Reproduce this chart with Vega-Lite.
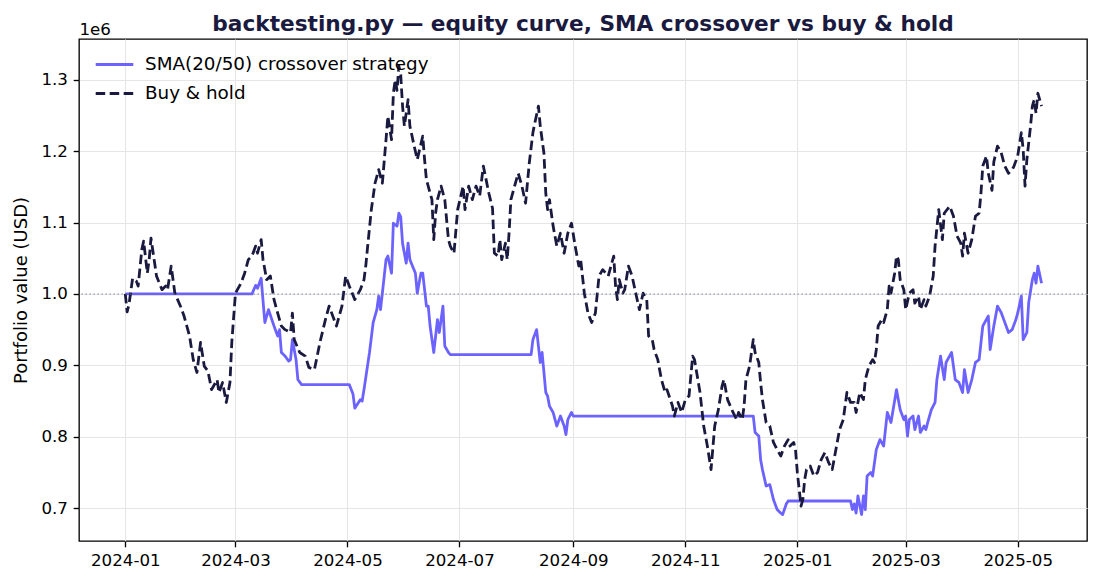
{
  "$schema": "https://vega.github.io/schema/vega-lite/v6.json",
  "width": 1008,
  "height": 502,
  "autosize": {"type": "none"},
  "padding": {"left": 79, "top": 39, "right": 12, "bottom": 42},
  "background": "white",
  "title": {
    "text": "backtesting.py — equity curve, SMA crossover vs buy & hold",
    "font": "DejaVu Sans",
    "fontSize": 21.67,
    "fontWeight": "bold",
    "color": "#1a1a40",
    "anchor": "middle",
    "frame": "group",
    "baseline": "alphabetic",
    "offset": -31.5
  },
  "config": {
    "view": {"stroke": "#000000", "strokeWidth": 1.33},
    "axis": {
      "labelFont": "DejaVu Sans",
      "labelFontSize": 16.67,
      "labelColor": "#000000",
      "titleFont": "DejaVu Sans",
      "titleFontSize": 18,
      "titleFontWeight": "normal",
      "titleColor": "#000000",
      "tickColor": "#000000",
      "tickSize": 5.8,
      "tickWidth": 1.33,
      "labelPadding": 5.8,
      "domain": false,
      "gridColor": "#e6e6e6",
      "gridWidth": 1.1
    },
    "legend": {
      "orient": "none",
      "legendX": 15,
      "legendY": 5,
      "labelFont": "DejaVu Sans",
      "labelFontSize": 18.33,
      "labelColor": "#000000",
      "labelLimit": 500,
      "symbolType": "stroke",
      "symbolSize": 1414,
      "symbolStrokeWidth": 2.8,
      "labelOffset": 10,
      "rowPadding": -12,
      "padding": 0,
      "title": null
    }
  },
  "datasets": {
    "equity": [
      {"series": "SMA(20/50) crossover strategy", "date": "2024-01-01", "equity": 1000000},
      {"series": "SMA(20/50) crossover strategy", "date": "2024-03-10", "equity": 1000000},
      {"series": "SMA(20/50) crossover strategy", "date": "2024-03-12", "equity": 1012000},
      {"series": "SMA(20/50) crossover strategy", "date": "2024-03-13", "equity": 1008000},
      {"series": "SMA(20/50) crossover strategy", "date": "2024-03-15", "equity": 1022000},
      {"series": "SMA(20/50) crossover strategy", "date": "2024-03-17", "equity": 960000},
      {"series": "SMA(20/50) crossover strategy", "date": "2024-03-19", "equity": 978000},
      {"series": "SMA(20/50) crossover strategy", "date": "2024-03-22", "equity": 955000},
      {"series": "SMA(20/50) crossover strategy", "date": "2024-03-24", "equity": 941000},
      {"series": "SMA(20/50) crossover strategy", "date": "2024-03-25", "equity": 950000},
      {"series": "SMA(20/50) crossover strategy", "date": "2024-03-26", "equity": 918000},
      {"series": "SMA(20/50) crossover strategy", "date": "2024-03-28", "equity": 913000},
      {"series": "SMA(20/50) crossover strategy", "date": "2024-03-30", "equity": 906000},
      {"series": "SMA(20/50) crossover strategy", "date": "2024-03-31", "equity": 908000},
      {"series": "SMA(20/50) crossover strategy", "date": "2024-04-01", "equity": 936000},
      {"series": "SMA(20/50) crossover strategy", "date": "2024-04-03", "equity": 908000},
      {"series": "SMA(20/50) crossover strategy", "date": "2024-04-04", "equity": 880000},
      {"series": "SMA(20/50) crossover strategy", "date": "2024-04-06", "equity": 873000},
      {"series": "SMA(20/50) crossover strategy", "date": "2024-05-02", "equity": 873000},
      {"series": "SMA(20/50) crossover strategy", "date": "2024-05-04", "equity": 860000},
      {"series": "SMA(20/50) crossover strategy", "date": "2024-05-05", "equity": 840000},
      {"series": "SMA(20/50) crossover strategy", "date": "2024-05-07", "equity": 848000},
      {"series": "SMA(20/50) crossover strategy", "date": "2024-05-08", "equity": 852000},
      {"series": "SMA(20/50) crossover strategy", "date": "2024-05-09", "equity": 850000},
      {"series": "SMA(20/50) crossover strategy", "date": "2024-05-10", "equity": 866000},
      {"series": "SMA(20/50) crossover strategy", "date": "2024-05-13", "equity": 918000},
      {"series": "SMA(20/50) crossover strategy", "date": "2024-05-15", "equity": 960000},
      {"series": "SMA(20/50) crossover strategy", "date": "2024-05-17", "equity": 978000},
      {"series": "SMA(20/50) crossover strategy", "date": "2024-05-18", "equity": 997000},
      {"series": "SMA(20/50) crossover strategy", "date": "2024-05-19", "equity": 978000},
      {"series": "SMA(20/50) crossover strategy", "date": "2024-05-20", "equity": 1001000},
      {"series": "SMA(20/50) crossover strategy", "date": "2024-05-22", "equity": 1048000},
      {"series": "SMA(20/50) crossover strategy", "date": "2024-05-23", "equity": 1053000},
      {"series": "SMA(20/50) crossover strategy", "date": "2024-05-25", "equity": 1029000},
      {"series": "SMA(20/50) crossover strategy", "date": "2024-05-26", "equity": 1099000},
      {"series": "SMA(20/50) crossover strategy", "date": "2024-05-28", "equity": 1095000},
      {"series": "SMA(20/50) crossover strategy", "date": "2024-05-29", "equity": 1113000},
      {"series": "SMA(20/50) crossover strategy", "date": "2024-05-30", "equity": 1108000},
      {"series": "SMA(20/50) crossover strategy", "date": "2024-05-31", "equity": 1071000},
      {"series": "SMA(20/50) crossover strategy", "date": "2024-06-02", "equity": 1043000},
      {"series": "SMA(20/50) crossover strategy", "date": "2024-06-03", "equity": 1071000},
      {"series": "SMA(20/50) crossover strategy", "date": "2024-06-04", "equity": 1048000},
      {"series": "SMA(20/50) crossover strategy", "date": "2024-06-07", "equity": 1029000},
      {"series": "SMA(20/50) crossover strategy", "date": "2024-06-08", "equity": 1001000},
      {"series": "SMA(20/50) crossover strategy", "date": "2024-06-10", "equity": 1029000},
      {"series": "SMA(20/50) crossover strategy", "date": "2024-06-11", "equity": 1029000},
      {"series": "SMA(20/50) crossover strategy", "date": "2024-06-13", "equity": 983000},
      {"series": "SMA(20/50) crossover strategy", "date": "2024-06-14", "equity": 983000},
      {"series": "SMA(20/50) crossover strategy", "date": "2024-06-15", "equity": 955000},
      {"series": "SMA(20/50) crossover strategy", "date": "2024-06-17", "equity": 918000},
      {"series": "SMA(20/50) crossover strategy", "date": "2024-06-19", "equity": 964000},
      {"series": "SMA(20/50) crossover strategy", "date": "2024-06-20", "equity": 946000},
      {"series": "SMA(20/50) crossover strategy", "date": "2024-06-22", "equity": 983000},
      {"series": "SMA(20/50) crossover strategy", "date": "2024-06-23", "equity": 927000},
      {"series": "SMA(20/50) crossover strategy", "date": "2024-06-25", "equity": 918000},
      {"series": "SMA(20/50) crossover strategy", "date": "2024-06-26", "equity": 915000},
      {"series": "SMA(20/50) crossover strategy", "date": "2024-08-09", "equity": 915000},
      {"series": "SMA(20/50) crossover strategy", "date": "2024-08-10", "equity": 936000},
      {"series": "SMA(20/50) crossover strategy", "date": "2024-08-12", "equity": 950000},
      {"series": "SMA(20/50) crossover strategy", "date": "2024-08-14", "equity": 904000},
      {"series": "SMA(20/50) crossover strategy", "date": "2024-08-15", "equity": 918000},
      {"series": "SMA(20/50) crossover strategy", "date": "2024-08-17", "equity": 862000},
      {"series": "SMA(20/50) crossover strategy", "date": "2024-08-18", "equity": 857000},
      {"series": "SMA(20/50) crossover strategy", "date": "2024-08-19", "equity": 843000},
      {"series": "SMA(20/50) crossover strategy", "date": "2024-08-21", "equity": 834000},
      {"series": "SMA(20/50) crossover strategy", "date": "2024-08-23", "equity": 815000},
      {"series": "SMA(20/50) crossover strategy", "date": "2024-08-25", "equity": 829000},
      {"series": "SMA(20/50) crossover strategy", "date": "2024-08-27", "equity": 815000},
      {"series": "SMA(20/50) crossover strategy", "date": "2024-08-28", "equity": 803000},
      {"series": "SMA(20/50) crossover strategy", "date": "2024-08-29", "equity": 824000},
      {"series": "SMA(20/50) crossover strategy", "date": "2024-08-31", "equity": 834000},
      {"series": "SMA(20/50) crossover strategy", "date": "2024-09-01", "equity": 829000},
      {"series": "SMA(20/50) crossover strategy", "date": "2024-12-08", "equity": 829000},
      {"series": "SMA(20/50) crossover strategy", "date": "2024-12-09", "equity": 806000},
      {"series": "SMA(20/50) crossover strategy", "date": "2024-12-11", "equity": 801000},
      {"series": "SMA(20/50) crossover strategy", "date": "2024-12-12", "equity": 768000},
      {"series": "SMA(20/50) crossover strategy", "date": "2024-12-13", "equity": 754000},
      {"series": "SMA(20/50) crossover strategy", "date": "2024-12-15", "equity": 731000},
      {"series": "SMA(20/50) crossover strategy", "date": "2024-12-17", "equity": 733000},
      {"series": "SMA(20/50) crossover strategy", "date": "2024-12-19", "equity": 712000},
      {"series": "SMA(20/50) crossover strategy", "date": "2024-12-21", "equity": 698000},
      {"series": "SMA(20/50) crossover strategy", "date": "2024-12-23", "equity": 693000},
      {"series": "SMA(20/50) crossover strategy", "date": "2024-12-24", "equity": 691000},
      {"series": "SMA(20/50) crossover strategy", "date": "2024-12-26", "equity": 706000},
      {"series": "SMA(20/50) crossover strategy", "date": "2024-12-27", "equity": 710000},
      {"series": "SMA(20/50) crossover strategy", "date": "2025-01-30", "equity": 710000},
      {"series": "SMA(20/50) crossover strategy", "date": "2025-01-31", "equity": 698000},
      {"series": "SMA(20/50) crossover strategy", "date": "2025-02-01", "equity": 706000},
      {"series": "SMA(20/50) crossover strategy", "date": "2025-02-02", "equity": 693000},
      {"series": "SMA(20/50) crossover strategy", "date": "2025-02-03", "equity": 717000},
      {"series": "SMA(20/50) crossover strategy", "date": "2025-02-05", "equity": 691000},
      {"series": "SMA(20/50) crossover strategy", "date": "2025-02-06", "equity": 717000},
      {"series": "SMA(20/50) crossover strategy", "date": "2025-02-07", "equity": 698000},
      {"series": "SMA(20/50) crossover strategy", "date": "2025-02-08", "equity": 745000},
      {"series": "SMA(20/50) crossover strategy", "date": "2025-02-10", "equity": 750000},
      {"series": "SMA(20/50) crossover strategy", "date": "2025-02-11", "equity": 745000},
      {"series": "SMA(20/50) crossover strategy", "date": "2025-02-13", "equity": 782000},
      {"series": "SMA(20/50) crossover strategy", "date": "2025-02-15", "equity": 796000},
      {"series": "SMA(20/50) crossover strategy", "date": "2025-02-17", "equity": 787000},
      {"series": "SMA(20/50) crossover strategy", "date": "2025-02-19", "equity": 834000},
      {"series": "SMA(20/50) crossover strategy", "date": "2025-02-21", "equity": 820000},
      {"series": "SMA(20/50) crossover strategy", "date": "2025-02-24", "equity": 866000},
      {"series": "SMA(20/50) crossover strategy", "date": "2025-02-26", "equity": 838000},
      {"series": "SMA(20/50) crossover strategy", "date": "2025-02-28", "equity": 824000},
      {"series": "SMA(20/50) crossover strategy", "date": "2025-03-01", "equity": 829000},
      {"series": "SMA(20/50) crossover strategy", "date": "2025-03-02", "equity": 801000},
      {"series": "SMA(20/50) crossover strategy", "date": "2025-03-03", "equity": 824000},
      {"series": "SMA(20/50) crossover strategy", "date": "2025-03-05", "equity": 829000},
      {"series": "SMA(20/50) crossover strategy", "date": "2025-03-06", "equity": 810000},
      {"series": "SMA(20/50) crossover strategy", "date": "2025-03-08", "equity": 829000},
      {"series": "SMA(20/50) crossover strategy", "date": "2025-03-09", "equity": 806000},
      {"series": "SMA(20/50) crossover strategy", "date": "2025-03-11", "equity": 815000},
      {"series": "SMA(20/50) crossover strategy", "date": "2025-03-12", "equity": 810000},
      {"series": "SMA(20/50) crossover strategy", "date": "2025-03-13", "equity": 820000},
      {"series": "SMA(20/50) crossover strategy", "date": "2025-03-15", "equity": 838000},
      {"series": "SMA(20/50) crossover strategy", "date": "2025-03-17", "equity": 848000},
      {"series": "SMA(20/50) crossover strategy", "date": "2025-03-18", "equity": 880000},
      {"series": "SMA(20/50) crossover strategy", "date": "2025-03-20", "equity": 913000},
      {"series": "SMA(20/50) crossover strategy", "date": "2025-03-22", "equity": 880000},
      {"series": "SMA(20/50) crossover strategy", "date": "2025-03-23", "equity": 904000},
      {"series": "SMA(20/50) crossover strategy", "date": "2025-03-26", "equity": 918000},
      {"series": "SMA(20/50) crossover strategy", "date": "2025-03-28", "equity": 880000},
      {"series": "SMA(20/50) crossover strategy", "date": "2025-03-30", "equity": 876000},
      {"series": "SMA(20/50) crossover strategy", "date": "2025-04-01", "equity": 862000},
      {"series": "SMA(20/50) crossover strategy", "date": "2025-04-02", "equity": 894000},
      {"series": "SMA(20/50) crossover strategy", "date": "2025-04-04", "equity": 862000},
      {"series": "SMA(20/50) crossover strategy", "date": "2025-04-06", "equity": 880000},
      {"series": "SMA(20/50) crossover strategy", "date": "2025-04-08", "equity": 904000},
      {"series": "SMA(20/50) crossover strategy", "date": "2025-04-10", "equity": 908000},
      {"series": "SMA(20/50) crossover strategy", "date": "2025-04-12", "equity": 955000},
      {"series": "SMA(20/50) crossover strategy", "date": "2025-04-15", "equity": 969000},
      {"series": "SMA(20/50) crossover strategy", "date": "2025-04-16", "equity": 922000},
      {"series": "SMA(20/50) crossover strategy", "date": "2025-04-18", "equity": 955000},
      {"series": "SMA(20/50) crossover strategy", "date": "2025-04-20", "equity": 983000},
      {"series": "SMA(20/50) crossover strategy", "date": "2025-04-22", "equity": 974000},
      {"series": "SMA(20/50) crossover strategy", "date": "2025-04-24", "equity": 960000},
      {"series": "SMA(20/50) crossover strategy", "date": "2025-04-26", "equity": 946000},
      {"series": "SMA(20/50) crossover strategy", "date": "2025-04-28", "equity": 950000},
      {"series": "SMA(20/50) crossover strategy", "date": "2025-04-30", "equity": 964000},
      {"series": "SMA(20/50) crossover strategy", "date": "2025-05-01", "equity": 973000},
      {"series": "SMA(20/50) crossover strategy", "date": "2025-05-03", "equity": 997000},
      {"series": "SMA(20/50) crossover strategy", "date": "2025-05-04", "equity": 936000},
      {"series": "SMA(20/50) crossover strategy", "date": "2025-05-06", "equity": 946000},
      {"series": "SMA(20/50) crossover strategy", "date": "2025-05-07", "equity": 988000},
      {"series": "SMA(20/50) crossover strategy", "date": "2025-05-09", "equity": 1020000},
      {"series": "SMA(20/50) crossover strategy", "date": "2025-05-10", "equity": 1029000},
      {"series": "SMA(20/50) crossover strategy", "date": "2025-05-11", "equity": 1015000},
      {"series": "SMA(20/50) crossover strategy", "date": "2025-05-12", "equity": 1039000},
      {"series": "SMA(20/50) crossover strategy", "date": "2025-05-14", "equity": 1015000},
      {"series": "Buy & hold", "date": "2024-01-01", "equity": 1000000},
      {"series": "Buy & hold", "date": "2024-01-02", "equity": 975000},
      {"series": "Buy & hold", "date": "2024-01-03", "equity": 985000},
      {"series": "Buy & hold", "date": "2024-01-05", "equity": 1022000},
      {"series": "Buy & hold", "date": "2024-01-07", "equity": 1018000},
      {"series": "Buy & hold", "date": "2024-01-08", "equity": 1011000},
      {"series": "Buy & hold", "date": "2024-01-10", "equity": 1062000},
      {"series": "Buy & hold", "date": "2024-01-11", "equity": 1074000},
      {"series": "Buy & hold", "date": "2024-01-13", "equity": 1029000},
      {"series": "Buy & hold", "date": "2024-01-14", "equity": 1048000},
      {"series": "Buy & hold", "date": "2024-01-15", "equity": 1078000},
      {"series": "Buy & hold", "date": "2024-01-17", "equity": 1043000},
      {"series": "Buy & hold", "date": "2024-01-18", "equity": 1025000},
      {"series": "Buy & hold", "date": "2024-01-21", "equity": 1006000},
      {"series": "Buy & hold", "date": "2024-01-23", "equity": 1011000},
      {"series": "Buy & hold", "date": "2024-01-24", "equity": 1006000},
      {"series": "Buy & hold", "date": "2024-01-26", "equity": 1039000},
      {"series": "Buy & hold", "date": "2024-01-28", "equity": 1001000},
      {"series": "Buy & hold", "date": "2024-01-31", "equity": 983000},
      {"series": "Buy & hold", "date": "2024-02-02", "equity": 969000},
      {"series": "Buy & hold", "date": "2024-02-05", "equity": 941000},
      {"series": "Buy & hold", "date": "2024-02-07", "equity": 908000},
      {"series": "Buy & hold", "date": "2024-02-09", "equity": 890000},
      {"series": "Buy & hold", "date": "2024-02-11", "equity": 932000},
      {"series": "Buy & hold", "date": "2024-02-13", "equity": 899000},
      {"series": "Buy & hold", "date": "2024-02-15", "equity": 892000},
      {"series": "Buy & hold", "date": "2024-02-17", "equity": 866000},
      {"series": "Buy & hold", "date": "2024-02-20", "equity": 880000},
      {"series": "Buy & hold", "date": "2024-02-21", "equity": 862000},
      {"series": "Buy & hold", "date": "2024-02-23", "equity": 876000},
      {"series": "Buy & hold", "date": "2024-02-25", "equity": 848000},
      {"series": "Buy & hold", "date": "2024-02-27", "equity": 876000},
      {"series": "Buy & hold", "date": "2024-02-28", "equity": 932000},
      {"series": "Buy & hold", "date": "2024-03-01", "equity": 1001000},
      {"series": "Buy & hold", "date": "2024-03-04", "equity": 1015000},
      {"series": "Buy & hold", "date": "2024-03-06", "equity": 1029000},
      {"series": "Buy & hold", "date": "2024-03-08", "equity": 1048000},
      {"series": "Buy & hold", "date": "2024-03-10", "equity": 1053000},
      {"series": "Buy & hold", "date": "2024-03-12", "equity": 1067000},
      {"series": "Buy & hold", "date": "2024-03-13", "equity": 1057000},
      {"series": "Buy & hold", "date": "2024-03-15", "equity": 1076000},
      {"series": "Buy & hold", "date": "2024-03-16", "equity": 1048000},
      {"series": "Buy & hold", "date": "2024-03-18", "equity": 1020000},
      {"series": "Buy & hold", "date": "2024-03-20", "equity": 1025000},
      {"series": "Buy & hold", "date": "2024-03-22", "equity": 992000},
      {"series": "Buy & hold", "date": "2024-03-24", "equity": 973000},
      {"series": "Buy & hold", "date": "2024-03-26", "equity": 955000},
      {"series": "Buy & hold", "date": "2024-03-28", "equity": 950000},
      {"series": "Buy & hold", "date": "2024-03-31", "equity": 946000},
      {"series": "Buy & hold", "date": "2024-04-01", "equity": 973000},
      {"series": "Buy & hold", "date": "2024-04-02", "equity": 936000},
      {"series": "Buy & hold", "date": "2024-04-05", "equity": 918000},
      {"series": "Buy & hold", "date": "2024-04-08", "equity": 913000},
      {"series": "Buy & hold", "date": "2024-04-10", "equity": 897000},
      {"series": "Buy & hold", "date": "2024-04-13", "equity": 894000},
      {"series": "Buy & hold", "date": "2024-04-16", "equity": 932000},
      {"series": "Buy & hold", "date": "2024-04-19", "equity": 964000},
      {"series": "Buy & hold", "date": "2024-04-21", "equity": 983000},
      {"series": "Buy & hold", "date": "2024-04-25", "equity": 955000},
      {"series": "Buy & hold", "date": "2024-04-28", "equity": 983000},
      {"series": "Buy & hold", "date": "2024-04-30", "equity": 1025000},
      {"series": "Buy & hold", "date": "2024-05-02", "equity": 1011000},
      {"series": "Buy & hold", "date": "2024-05-05", "equity": 992000},
      {"series": "Buy & hold", "date": "2024-05-08", "equity": 1006000},
      {"series": "Buy & hold", "date": "2024-05-10", "equity": 1020000},
      {"series": "Buy & hold", "date": "2024-05-11", "equity": 1040000},
      {"series": "Buy & hold", "date": "2024-05-12", "equity": 1067000},
      {"series": "Buy & hold", "date": "2024-05-14", "equity": 1118000},
      {"series": "Buy & hold", "date": "2024-05-16", "equity": 1155000},
      {"series": "Buy & hold", "date": "2024-05-18", "equity": 1174000},
      {"series": "Buy & hold", "date": "2024-05-20", "equity": 1155000},
      {"series": "Buy & hold", "date": "2024-05-22", "equity": 1216000},
      {"series": "Buy & hold", "date": "2024-05-23", "equity": 1249000},
      {"series": "Buy & hold", "date": "2024-05-25", "equity": 1216000},
      {"series": "Buy & hold", "date": "2024-05-26", "equity": 1281000},
      {"series": "Buy & hold", "date": "2024-05-27", "equity": 1300000},
      {"series": "Buy & hold", "date": "2024-05-28", "equity": 1285000},
      {"series": "Buy & hold", "date": "2024-05-29", "equity": 1319000},
      {"series": "Buy & hold", "date": "2024-05-30", "equity": 1307000},
      {"series": "Buy & hold", "date": "2024-05-31", "equity": 1263000},
      {"series": "Buy & hold", "date": "2024-06-01", "equity": 1235000},
      {"series": "Buy & hold", "date": "2024-06-03", "equity": 1272000},
      {"series": "Buy & hold", "date": "2024-06-04", "equity": 1235000},
      {"series": "Buy & hold", "date": "2024-06-06", "equity": 1211000},
      {"series": "Buy & hold", "date": "2024-06-08", "equity": 1188000},
      {"series": "Buy & hold", "date": "2024-06-11", "equity": 1221000},
      {"series": "Buy & hold", "date": "2024-06-12", "equity": 1188000},
      {"series": "Buy & hold", "date": "2024-06-13", "equity": 1160000},
      {"series": "Buy & hold", "date": "2024-06-16", "equity": 1132000},
      {"series": "Buy & hold", "date": "2024-06-17", "equity": 1076000},
      {"series": "Buy & hold", "date": "2024-06-18", "equity": 1113000},
      {"series": "Buy & hold", "date": "2024-06-19", "equity": 1132000},
      {"series": "Buy & hold", "date": "2024-06-21", "equity": 1151000},
      {"series": "Buy & hold", "date": "2024-06-23", "equity": 1132000},
      {"series": "Buy & hold", "date": "2024-06-25", "equity": 1076000},
      {"series": "Buy & hold", "date": "2024-06-26", "equity": 1067000},
      {"series": "Buy & hold", "date": "2024-06-28", "equity": 1057000},
      {"series": "Buy & hold", "date": "2024-06-30", "equity": 1118000},
      {"series": "Buy & hold", "date": "2024-07-03", "equity": 1151000},
      {"series": "Buy & hold", "date": "2024-07-04", "equity": 1118000},
      {"series": "Buy & hold", "date": "2024-07-06", "equity": 1151000},
      {"series": "Buy & hold", "date": "2024-07-08", "equity": 1132000},
      {"series": "Buy & hold", "date": "2024-07-10", "equity": 1151000},
      {"series": "Buy & hold", "date": "2024-07-12", "equity": 1137000},
      {"series": "Buy & hold", "date": "2024-07-14", "equity": 1179000},
      {"series": "Buy & hold", "date": "2024-07-17", "equity": 1141000},
      {"series": "Buy & hold", "date": "2024-07-19", "equity": 1120000},
      {"series": "Buy & hold", "date": "2024-07-20", "equity": 1057000},
      {"series": "Buy & hold", "date": "2024-07-22", "equity": 1053000},
      {"series": "Buy & hold", "date": "2024-07-23", "equity": 1076000},
      {"series": "Buy & hold", "date": "2024-07-24", "equity": 1048000},
      {"series": "Buy & hold", "date": "2024-07-26", "equity": 1071000},
      {"series": "Buy & hold", "date": "2024-07-27", "equity": 1048000},
      {"series": "Buy & hold", "date": "2024-07-28", "equity": 1085000},
      {"series": "Buy & hold", "date": "2024-07-29", "equity": 1132000},
      {"series": "Buy & hold", "date": "2024-07-31", "equity": 1151000},
      {"series": "Buy & hold", "date": "2024-08-02", "equity": 1169000},
      {"series": "Buy & hold", "date": "2024-08-04", "equity": 1151000},
      {"series": "Buy & hold", "date": "2024-08-06", "equity": 1127000},
      {"series": "Buy & hold", "date": "2024-08-08", "equity": 1183000},
      {"series": "Buy & hold", "date": "2024-08-10", "equity": 1226000},
      {"series": "Buy & hold", "date": "2024-08-11", "equity": 1239000},
      {"series": "Buy & hold", "date": "2024-08-13", "equity": 1263000},
      {"series": "Buy & hold", "date": "2024-08-14", "equity": 1235000},
      {"series": "Buy & hold", "date": "2024-08-15", "equity": 1216000},
      {"series": "Buy & hold", "date": "2024-08-16", "equity": 1197000},
      {"series": "Buy & hold", "date": "2024-08-17", "equity": 1141000},
      {"series": "Buy & hold", "date": "2024-08-18", "equity": 1118000},
      {"series": "Buy & hold", "date": "2024-08-19", "equity": 1132000},
      {"series": "Buy & hold", "date": "2024-08-21", "equity": 1095000},
      {"series": "Buy & hold", "date": "2024-08-23", "equity": 1067000},
      {"series": "Buy & hold", "date": "2024-08-25", "equity": 1085000},
      {"series": "Buy & hold", "date": "2024-08-27", "equity": 1057000},
      {"series": "Buy & hold", "date": "2024-08-29", "equity": 1085000},
      {"series": "Buy & hold", "date": "2024-08-31", "equity": 1099000},
      {"series": "Buy & hold", "date": "2024-09-02", "equity": 1067000},
      {"series": "Buy & hold", "date": "2024-09-04", "equity": 1039000},
      {"series": "Buy & hold", "date": "2024-09-05", "equity": 1048000},
      {"series": "Buy & hold", "date": "2024-09-07", "equity": 1001000},
      {"series": "Buy & hold", "date": "2024-09-09", "equity": 973000},
      {"series": "Buy & hold", "date": "2024-09-11", "equity": 960000},
      {"series": "Buy & hold", "date": "2024-09-13", "equity": 973000},
      {"series": "Buy & hold", "date": "2024-09-15", "equity": 1025000},
      {"series": "Buy & hold", "date": "2024-09-17", "equity": 1034000},
      {"series": "Buy & hold", "date": "2024-09-20", "equity": 1025000},
      {"series": "Buy & hold", "date": "2024-09-23", "equity": 1053000},
      {"series": "Buy & hold", "date": "2024-09-24", "equity": 1011000},
      {"series": "Buy & hold", "date": "2024-09-25", "equity": 992000},
      {"series": "Buy & hold", "date": "2024-09-26", "equity": 1020000},
      {"series": "Buy & hold", "date": "2024-09-28", "equity": 1001000},
      {"series": "Buy & hold", "date": "2024-09-29", "equity": 1006000},
      {"series": "Buy & hold", "date": "2024-10-01", "equity": 1039000},
      {"series": "Buy & hold", "date": "2024-10-03", "equity": 1025000},
      {"series": "Buy & hold", "date": "2024-10-05", "equity": 1001000},
      {"series": "Buy & hold", "date": "2024-10-07", "equity": 978000},
      {"series": "Buy & hold", "date": "2024-10-09", "equity": 1001000},
      {"series": "Buy & hold", "date": "2024-10-11", "equity": 992000},
      {"series": "Buy & hold", "date": "2024-10-12", "equity": 941000},
      {"series": "Buy & hold", "date": "2024-10-14", "equity": 936000},
      {"series": "Buy & hold", "date": "2024-10-15", "equity": 922000},
      {"series": "Buy & hold", "date": "2024-10-17", "equity": 908000},
      {"series": "Buy & hold", "date": "2024-10-19", "equity": 880000},
      {"series": "Buy & hold", "date": "2024-10-21", "equity": 862000},
      {"series": "Buy & hold", "date": "2024-10-22", "equity": 866000},
      {"series": "Buy & hold", "date": "2024-10-25", "equity": 843000},
      {"series": "Buy & hold", "date": "2024-10-26", "equity": 829000},
      {"series": "Buy & hold", "date": "2024-10-28", "equity": 848000},
      {"series": "Buy & hold", "date": "2024-10-30", "equity": 834000},
      {"series": "Buy & hold", "date": "2024-11-01", "equity": 852000},
      {"series": "Buy & hold", "date": "2024-11-03", "equity": 857000},
      {"series": "Buy & hold", "date": "2024-11-05", "equity": 913000},
      {"series": "Buy & hold", "date": "2024-11-06", "equity": 908000},
      {"series": "Buy & hold", "date": "2024-11-09", "equity": 862000},
      {"series": "Buy & hold", "date": "2024-11-11", "equity": 815000},
      {"series": "Buy & hold", "date": "2024-11-13", "equity": 787000},
      {"series": "Buy & hold", "date": "2024-11-15", "equity": 754000},
      {"series": "Buy & hold", "date": "2024-11-17", "equity": 815000},
      {"series": "Buy & hold", "date": "2024-11-19", "equity": 838000},
      {"series": "Buy & hold", "date": "2024-11-21", "equity": 871000},
      {"series": "Buy & hold", "date": "2024-11-22", "equity": 880000},
      {"series": "Buy & hold", "date": "2024-11-24", "equity": 852000},
      {"series": "Buy & hold", "date": "2024-11-27", "equity": 834000},
      {"series": "Buy & hold", "date": "2024-11-29", "equity": 824000},
      {"series": "Buy & hold", "date": "2024-11-30", "equity": 834000},
      {"series": "Buy & hold", "date": "2024-12-02", "equity": 824000},
      {"series": "Buy & hold", "date": "2024-12-03", "equity": 843000},
      {"series": "Buy & hold", "date": "2024-12-04", "equity": 880000},
      {"series": "Buy & hold", "date": "2024-12-06", "equity": 899000},
      {"series": "Buy & hold", "date": "2024-12-08", "equity": 936000},
      {"series": "Buy & hold", "date": "2024-12-09", "equity": 918000},
      {"series": "Buy & hold", "date": "2024-12-11", "equity": 904000},
      {"series": "Buy & hold", "date": "2024-12-12", "equity": 876000},
      {"series": "Buy & hold", "date": "2024-12-13", "equity": 852000},
      {"series": "Buy & hold", "date": "2024-12-15", "equity": 820000},
      {"series": "Buy & hold", "date": "2024-12-17", "equity": 815000},
      {"series": "Buy & hold", "date": "2024-12-19", "equity": 792000},
      {"series": "Buy & hold", "date": "2024-12-21", "equity": 782000},
      {"series": "Buy & hold", "date": "2024-12-23", "equity": 773000},
      {"series": "Buy & hold", "date": "2024-12-25", "equity": 787000},
      {"series": "Buy & hold", "date": "2024-12-27", "equity": 796000},
      {"series": "Buy & hold", "date": "2024-12-28", "equity": 787000},
      {"series": "Buy & hold", "date": "2024-12-30", "equity": 792000},
      {"series": "Buy & hold", "date": "2024-12-31", "equity": 782000},
      {"series": "Buy & hold", "date": "2025-01-01", "equity": 750000},
      {"series": "Buy & hold", "date": "2025-01-03", "equity": 703000},
      {"series": "Buy & hold", "date": "2025-01-04", "equity": 712000},
      {"series": "Buy & hold", "date": "2025-01-05", "equity": 740000},
      {"series": "Buy & hold", "date": "2025-01-06", "equity": 754000},
      {"series": "Buy & hold", "date": "2025-01-08", "equity": 759000},
      {"series": "Buy & hold", "date": "2025-01-10", "equity": 745000},
      {"series": "Buy & hold", "date": "2025-01-12", "equity": 750000},
      {"series": "Buy & hold", "date": "2025-01-14", "equity": 768000},
      {"series": "Buy & hold", "date": "2025-01-16", "equity": 778000},
      {"series": "Buy & hold", "date": "2025-01-18", "equity": 764000},
      {"series": "Buy & hold", "date": "2025-01-20", "equity": 754000},
      {"series": "Buy & hold", "date": "2025-01-22", "equity": 782000},
      {"series": "Buy & hold", "date": "2025-01-24", "equity": 810000},
      {"series": "Buy & hold", "date": "2025-01-26", "equity": 824000},
      {"series": "Buy & hold", "date": "2025-01-28", "equity": 862000},
      {"series": "Buy & hold", "date": "2025-01-30", "equity": 848000},
      {"series": "Buy & hold", "date": "2025-02-01", "equity": 848000},
      {"series": "Buy & hold", "date": "2025-02-02", "equity": 834000},
      {"series": "Buy & hold", "date": "2025-02-04", "equity": 862000},
      {"series": "Buy & hold", "date": "2025-02-06", "equity": 852000},
      {"series": "Buy & hold", "date": "2025-02-07", "equity": 880000},
      {"series": "Buy & hold", "date": "2025-02-09", "equity": 899000},
      {"series": "Buy & hold", "date": "2025-02-11", "equity": 908000},
      {"series": "Buy & hold", "date": "2025-02-12", "equity": 904000},
      {"series": "Buy & hold", "date": "2025-02-13", "equity": 922000},
      {"series": "Buy & hold", "date": "2025-02-14", "equity": 955000},
      {"series": "Buy & hold", "date": "2025-02-16", "equity": 964000},
      {"series": "Buy & hold", "date": "2025-02-17", "equity": 960000},
      {"series": "Buy & hold", "date": "2025-02-19", "equity": 978000},
      {"series": "Buy & hold", "date": "2025-02-20", "equity": 1011000},
      {"series": "Buy & hold", "date": "2025-02-21", "equity": 1001000},
      {"series": "Buy & hold", "date": "2025-02-23", "equity": 1029000},
      {"series": "Buy & hold", "date": "2025-02-24", "equity": 1053000},
      {"series": "Buy & hold", "date": "2025-02-25", "equity": 1048000},
      {"series": "Buy & hold", "date": "2025-02-26", "equity": 1020000},
      {"series": "Buy & hold", "date": "2025-02-28", "equity": 1006000},
      {"series": "Buy & hold", "date": "2025-03-01", "equity": 978000},
      {"series": "Buy & hold", "date": "2025-03-03", "equity": 1001000},
      {"series": "Buy & hold", "date": "2025-03-05", "equity": 1006000},
      {"series": "Buy & hold", "date": "2025-03-06", "equity": 987000},
      {"series": "Buy & hold", "date": "2025-03-08", "equity": 997000},
      {"series": "Buy & hold", "date": "2025-03-09", "equity": 978000},
      {"series": "Buy & hold", "date": "2025-03-11", "equity": 992000},
      {"series": "Buy & hold", "date": "2025-03-12", "equity": 983000},
      {"series": "Buy & hold", "date": "2025-03-14", "equity": 997000},
      {"series": "Buy & hold", "date": "2025-03-16", "equity": 1025000},
      {"series": "Buy & hold", "date": "2025-03-17", "equity": 1067000},
      {"series": "Buy & hold", "date": "2025-03-19", "equity": 1118000},
      {"series": "Buy & hold", "date": "2025-03-21", "equity": 1076000},
      {"series": "Buy & hold", "date": "2025-03-22", "equity": 1113000},
      {"series": "Buy & hold", "date": "2025-03-25", "equity": 1123000},
      {"series": "Buy & hold", "date": "2025-03-27", "equity": 1109000},
      {"series": "Buy & hold", "date": "2025-03-29", "equity": 1081000},
      {"series": "Buy & hold", "date": "2025-03-31", "equity": 1071000},
      {"series": "Buy & hold", "date": "2025-04-01", "equity": 1053000},
      {"series": "Buy & hold", "date": "2025-04-02", "equity": 1085000},
      {"series": "Buy & hold", "date": "2025-04-04", "equity": 1057000},
      {"series": "Buy & hold", "date": "2025-04-06", "equity": 1076000},
      {"series": "Buy & hold", "date": "2025-04-08", "equity": 1109000},
      {"series": "Buy & hold", "date": "2025-04-10", "equity": 1113000},
      {"series": "Buy & hold", "date": "2025-04-11", "equity": 1141000},
      {"series": "Buy & hold", "date": "2025-04-12", "equity": 1179000},
      {"series": "Buy & hold", "date": "2025-04-14", "equity": 1193000},
      {"series": "Buy & hold", "date": "2025-04-15", "equity": 1169000},
      {"series": "Buy & hold", "date": "2025-04-17", "equity": 1145000},
      {"series": "Buy & hold", "date": "2025-04-18", "equity": 1185000},
      {"series": "Buy & hold", "date": "2025-04-20", "equity": 1207000},
      {"series": "Buy & hold", "date": "2025-04-22", "equity": 1198000},
      {"series": "Buy & hold", "date": "2025-04-24", "equity": 1179000},
      {"series": "Buy & hold", "date": "2025-04-26", "equity": 1169000},
      {"series": "Buy & hold", "date": "2025-04-28", "equity": 1174000},
      {"series": "Buy & hold", "date": "2025-04-29", "equity": 1179000},
      {"series": "Buy & hold", "date": "2025-05-01", "equity": 1193000},
      {"series": "Buy & hold", "date": "2025-05-03", "equity": 1226000},
      {"series": "Buy & hold", "date": "2025-05-04", "equity": 1202000},
      {"series": "Buy & hold", "date": "2025-05-05", "equity": 1151000},
      {"series": "Buy & hold", "date": "2025-05-06", "equity": 1188000},
      {"series": "Buy & hold", "date": "2025-05-08", "equity": 1235000},
      {"series": "Buy & hold", "date": "2025-05-09", "equity": 1263000},
      {"series": "Buy & hold", "date": "2025-05-10", "equity": 1272000},
      {"series": "Buy & hold", "date": "2025-05-11", "equity": 1253000},
      {"series": "Buy & hold", "date": "2025-05-12", "equity": 1281000},
      {"series": "Buy & hold", "date": "2025-05-14", "equity": 1263000}
    ]
  },
  "layer": [
    {
      "data": {"name": "equity"},
      "mark": {"type": "line", "strokeWidth": 2.8, "strokeJoin": "round"},
      "encoding": {
        "x": {
          "field": "date",
          "type": "temporal",
          "scale": {
            "type": "utc",
            "domain": [
              {"year": 2023, "month": 12, "date": 6, "hours": 19, "utc": true},
              {"year": 2025, "month": 6, "date": 7, "hours": 18, "utc": true}
            ]
          },
          "axis": {
            "title": null,
            "format": "%Y-%m",
            "grid": true,
            "values": [
              {"year": 2024, "month": 1, "date": 1, "utc": true},
              {"year": 2024, "month": 3, "date": 1, "utc": true},
              {"year": 2024, "month": 5, "date": 1, "utc": true},
              {"year": 2024, "month": 7, "date": 1, "utc": true},
              {"year": 2024, "month": 9, "date": 1, "utc": true},
              {"year": 2024, "month": 11, "date": 1, "utc": true},
              {"year": 2025, "month": 1, "date": 1, "utc": true},
              {"year": 2025, "month": 3, "date": 1, "utc": true},
              {"year": 2025, "month": 5, "date": 1, "utc": true}
            ]
          }
        },
        "y": {
          "field": "equity",
          "type": "quantitative",
          "scale": {"domain": [654000, 1357000], "zero": false, "nice": false},
          "axis": {
            "title": "Portfolio value (USD)",
            "titlePadding": 10,
            "grid": true,
            "values": [700000, 800000, 900000, 1000000, 1100000, 1200000, 1300000],
            "labelExpr": "format(datum.value / 1000000, '.1f')"
          }
        },
        "color": {
          "field": "series",
          "type": "nominal",
          "sort": null,
          "scale": {
            "domain": ["SMA(20/50) crossover strategy", "Buy & hold"],
            "range": ["#6c63ff", "#1a1a40"]
          },
          "legend": {"title": null}
        },
        "strokeDash": {
          "field": "series",
          "type": "nominal",
          "sort": null,
          "scale": {
            "domain": ["SMA(20/50) crossover strategy", "Buy & hold"],
            "range": [[1, 0], [9.5, 4.5]]
          },
          "legend": {"title": null}
        }
      }
    },
    {
      "data": {"values": [{}]},
      "mark": {"type": "rule", "color": "#7373a3", "strokeWidth": 1.1, "strokeDash": [1.5, 2.5], "opacity": 0.85},
      "encoding": {
        "y": {
          "datum": 1000000,
          "type": "quantitative",
          "axis": {
            "orient": "left",
            "title": "1e6",
            "labels": false,
            "ticks": false,
            "grid": false,
            "domain": false,
            "titleAngle": 0,
            "titleX": 0,
            "titleY": -5,
            "titleAlign": "left",
            "titleBaseline": "alphabetic",
            "titleFontSize": 16.67
          }
        }
      }
    }
  ],
  "resolve": {"axis": {"y": "independent"}}
}
